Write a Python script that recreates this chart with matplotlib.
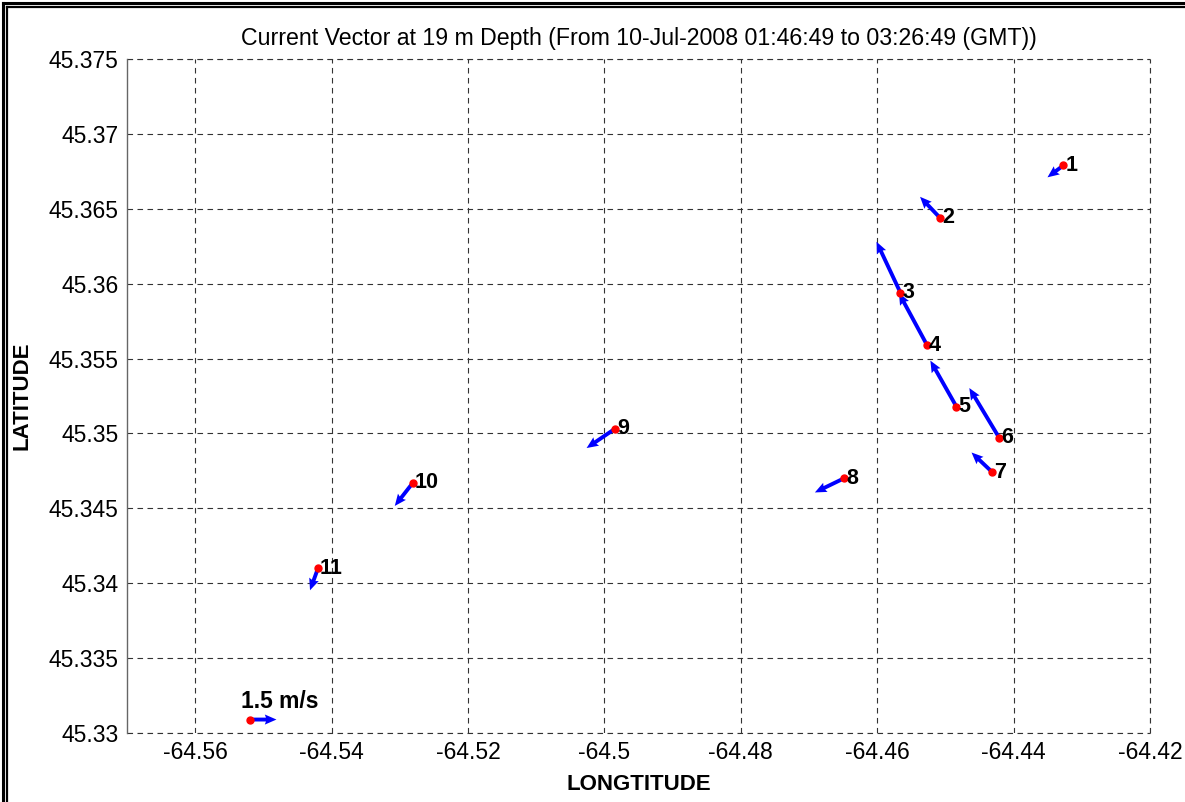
import matplotlib
matplotlib.use("Agg")
import matplotlib.pyplot as plt
from matplotlib.lines import Line2D

# station positions (deg) and current components (m/s)
stations = ["1", "2", "3", "4", "5", "6", "7", "8", "9", "10", "11"]
lon = [-64.4327, -64.4508, -64.4566, -64.4527, -64.4484, -64.4421,
       -64.4431, -64.4649, -64.4985, -64.5281, -64.5420]
lat = [45.3679, 45.3644, 45.3594, 45.3559, 45.3518, 45.3497,
       45.3474, 45.3470, 45.3503, 45.3467, 45.3410]
u = [-0.92, -1.15, -1.38, -1.62, -1.50, -1.73, -1.21, -1.67, -1.62, -1.04, -0.46]
v = [-0.69, 1.21, 2.94, 3.00, 2.65, 2.88, 1.15, -0.81, -1.10, -1.33, -1.27]

# reference vector
ref_lon, ref_lat = -64.5519, 45.3309
ref_speed = 1.5

xticks = [-64.56, -64.54, -64.52, -64.50, -64.48, -64.46, -64.44, -64.42]
xlabels = ["-64.56", "-64.54", "-64.52", "-64.5", "-64.48", "-64.46", "-64.44", "-64.42"]
yticks = [45.33, 45.335, 45.34, 45.345, 45.35, 45.355, 45.36, 45.365, 45.37, 45.375]
ylabels = ["45.33", "45.335", "45.34", "45.345", "45.35", "45.355", "45.36",
           "45.365", "45.37", "45.375"]

plt.rcParams["font.family"] = ["Liberation Sans", "DejaVu Sans"]

fig = plt.figure(figsize=(11.85, 8.02), dpi=100)
ax = fig.add_axes([0.1072, 0.0860, 0.8633, 0.8404])

qkw = dict(angles="uv", scale_units="inches", scale=5.77, color="blue",
           width=0.0038, headwidth=2.6, headlength=3.0, headaxislength=2.7,
           minshaft=1.0, zorder=3)
ax.quiver(lon, lat, u, v, **qkw)
ax.quiver([ref_lon], [ref_lat], [ref_speed], [0], **qkw)
ax.plot(lon, lat, "o", color="red", markersize=5, zorder=4)
ax.plot([ref_lon], [ref_lat], "o", color="red", markersize=5, zorder=4)

for name, x, y in zip(stations, lon, lat):
    ax.annotate(name, (x, y), xytext=(1.5, 0), textcoords="offset points",
                ha="left", va="center", fontsize=15.5, fontweight="bold", zorder=5)
ax.annotate(f"{ref_speed} m/s", (ref_lon, ref_lat), xytext=(-7, 5),
            textcoords="offset points", ha="left", va="bottom",
            fontsize=16.5, fontweight="bold")

ax.set_xlim(-64.57, -64.42)
ax.set_ylim(45.33, 45.375)
ax.set_xticks(xticks)
ax.set_xticklabels(xlabels)
ax.set_yticks(yticks)
ax.set_yticklabels(ylabels)
ax.tick_params(length=0, labelsize=16.5, pad=6)
dash = dict(color="0.2", linestyle=(0, (5, 4)), linewidth=0.8)
ax.grid(True, **dash)
for side in ["top", "right", "bottom"]:
    ax.spines[side].set_visible(False)
ax.spines["left"].set_color("0.4")
ax.spines["left"].set_linewidth(1.0)
ax.axhline(45.33, clip_on=False, **dash)
ax.axhline(45.375, clip_on=False, **dash)
ax.axvline(-64.42, clip_on=False, **dash)

ax.set_title("Current Vector at 19 m Depth (From 10-Jul-2008 01:46:49 to 03:26:49 (GMT))",
             fontsize=16.7, pad=10)
ax.set_xlabel("LONGTITUDE", fontsize=16, fontweight="bold", labelpad=7)
ax.set_ylabel("LATITUDE", fontsize=16, fontweight="bold", labelpad=12)

# window frame on left and top edges
W, H = 1185, 802
for px, lw in [(3, 2.2), (7, 1.6)]:
    fig.add_artist(Line2D([px / W, px / W], [0, 1 - px / H], color="black",
                          linewidth=lw, transform=fig.transFigure))
    fig.add_artist(Line2D([px / W, 1], [1 - px / H, 1 - px / H], color="black",
                          linewidth=lw, transform=fig.transFigure))

fig.savefig("out.png", dpi=100)
